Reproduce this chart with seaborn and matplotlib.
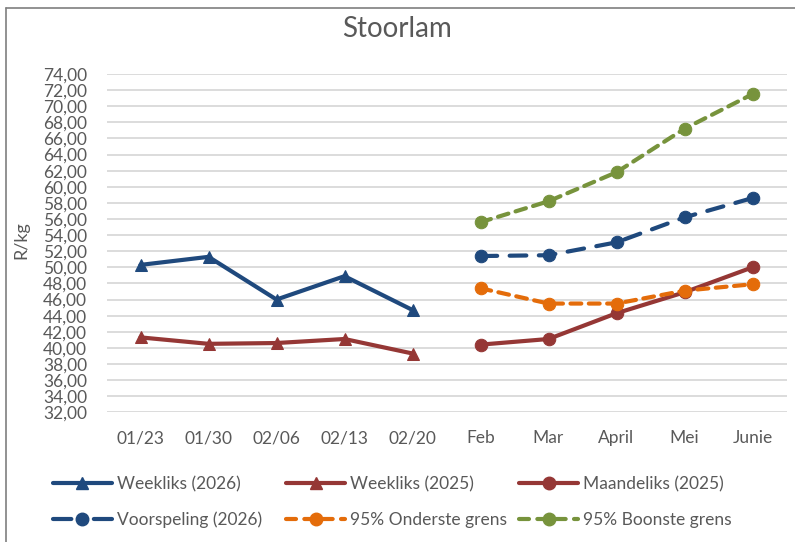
import numpy as np
import pandas as pd
import matplotlib
matplotlib.use("Agg")
import matplotlib.pyplot as plt
import seaborn as sns
from matplotlib.lines import Line2D

categories = ["01/23", "01/30", "02/06", "02/13", "02/20", "Feb", "Mar", "April", "Mei", "Junie"]
weekly_cats = ["01/23", "01/30", "02/06", "02/13", "02/20"]
monthly_cats = ["Feb", "Mar", "April", "Mei", "Junie"]

weekliks_2026 = [50.3, 51.3, 46.0, 48.9, 44.7]
weekliks_2025 = [41.3, 40.5, 40.6, 41.1, 39.3]
maandeliks_2025 = [40.4, 41.1, 44.3, 46.9, 50.0]
voorspeling_2026 = [51.4, 51.5, 53.1, 56.2, 58.6]
onderste_grens = [47.4, 45.5, 45.5, 47.1, 47.9]
boonste_grens = [55.6, 58.2, 61.8, 67.2, 71.5]

y_ticks = list(range(32, 76, 2))

BLUE = "#1F497D"
RED = "#953735"
ORANGE = "#E46C0A"
GREEN = "#77933C"
GREY = "#595959"

sns.set_theme(style="white")
plt.rcParams["font.family"] = ["Lato", "DejaVu Sans"]

W, H = 795, 542
fig = plt.figure(figsize=(W / 100, H / 100), dpi=100)
ax = fig.add_axes([106.5 / W, 1 - 412.3 / H, 680 / W, (412.3 - 74) / H])

pos = {c: i for i, c in enumerate(categories)}

# (name, categories, values, colour, marker, plot dashes, legend dashes)
series = [
    ("Weekliks (2026)", weekly_cats, weekliks_2026, BLUE, "^", None, None),
    ("Weekliks (2025)", weekly_cats, weekliks_2025, RED, "^", None, None),
    ("Maandeliks (2025)", monthly_cats, maandeliks_2025, RED, "o", None, None),
    ("Voorspeling (2026)", monthly_cats, voorspeling_2026, BLUE, "o", (4, 3), (4.4, 5.4)),
    ("95% Onderste grens", monthly_cats, onderste_grens, ORANGE, "o", (2.6, 1.8), (2.4, 2.0)),
    ("95% Boonste grens", monthly_cats, boonste_grens, GREEN, "o", (2.6, 1.8), (2.4, 2.0)),
]

lw = 3.0
ms = 9
handles = {}
for name, cats, vals, color, marker, dash, ldash in series:
    df = pd.DataFrame({"x": [pos[c] for c in cats], "y": vals})
    ls = "-" if dash is None else (0, dash)
    lls = "-" if ldash is None else (0, ldash)
    sns.lineplot(data=df, x="x", y="y", ax=ax, legend=False, color=color,
                 linewidth=lw, marker=marker, markersize=ms,
                 markeredgecolor=color, markerfacecolor=color)
    line = ax.lines[-1]
    line.set_linestyle(ls)
    line.set_solid_capstyle("round")
    line.set_dash_capstyle("round")
    handles[name] = Line2D([0], [0], color=color, linewidth=lw, linestyle=lls,
                           marker=marker, markersize=ms, markerfacecolor=color,
                           markeredgecolor=color, solid_capstyle="round",
                           dash_capstyle="round")

ax.set_xlim(-0.5, len(categories) - 0.5)
ax.set_ylim(32, 74)
ax.set_yticks(y_ticks)
ax.set_yticklabels([f"{v:.2f}".replace(".", ",") for v in y_ticks])
ax.set_xticks(range(len(categories)))
ax.set_xticklabels(categories)
ax.tick_params(axis="both", colors=GREY, labelsize=12.5, length=0)
ax.tick_params(axis="x", pad=13)
ax.tick_params(axis="y", pad=14)
ax.grid(axis="y", color="#D9D9D9", linewidth=1.3)
ax.set_axisbelow(True)
for s in ax.spines.values():
    s.set_visible(False)
ax.set_xlabel("")
ax.set_ylabel("")

fig.text(21 / W, 1 - 240 / H, "R/kg", rotation=90, ha="center", va="center",
         rotation_mode="anchor", fontsize=13, color=GREY)
fig.text(397 / W, 1 - 29 / H, "Stoorlam", ha="center", va="center", fontsize=20, color=GREY)

columns = [
    (52.7, ["Weekliks (2026)", "Voorspeling (2026)"]),
    (286, ["Weekliks (2025)", "95% Onderste grens"]),
    (519, ["Maandeliks (2025)", "95% Boonste grens"]),
]
for x0, names in columns:
    fig.legend([handles[n] for n in names], names, ncol=1, loc="center left",
               bbox_to_anchor=(x0 / W, 1 - 502 / H), frameon=False,
               fontsize=12.5, labelcolor=GREY, handlelength=3.4,
               handletextpad=0.3, labelspacing=1.1, borderpad=0,
               borderaxespad=0)

fig.add_artist(Line2D([6 / W, 6 / W], [0, 1 - 8 / H], transform=fig.transFigure,
                      color="#7F7F7F", linewidth=1.2))
fig.add_artist(Line2D([6 / W, 1], [1 - 8 / H, 1 - 8 / H], transform=fig.transFigure,
                      color="#7F7F7F", linewidth=1.2))

fig.savefig("out.png", dpi=100)
